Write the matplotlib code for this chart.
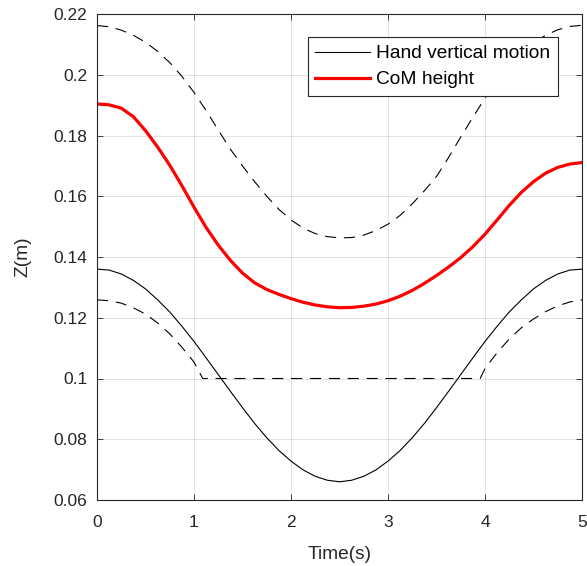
import matplotlib
matplotlib.use('Agg')
import matplotlib.pyplot as plt

# valeurs (pas de 0.125 s)
temps = [0, 0.125, 0.25, 0.375, 0.5, 0.625, 0.75, 0.875, 1.0, 1.125, 1.25, 1.375, 1.5, 1.625,
         1.75, 1.875, 2.0, 2.125, 2.25, 2.375, 2.5, 2.625, 2.75, 2.875, 3.0, 3.125, 3.25,
         3.375, 3.5, 3.625, 3.75, 3.875, 4.0, 4.125, 4.25, 4.375, 4.5, 4.625, 4.75, 4.875, 5.0]
main = [0.136, 0.1357, 0.1344, 0.1323, 0.1295, 0.1259, 0.1219, 0.1172, 0.1122, 0.1068, 0.1013,
        0.0958, 0.0904, 0.0852, 0.0805, 0.0763, 0.0728, 0.0699, 0.0678, 0.0665, 0.066, 0.0665,
        0.0678, 0.0699, 0.0728, 0.0763, 0.0805, 0.0852, 0.0904, 0.0958, 0.1013, 0.1068, 0.1122,
        0.1172, 0.1219, 0.1259, 0.1295, 0.1323, 0.1344, 0.1357, 0.136]
com = [0.1904, 0.1901, 0.1890, 0.1862, 0.1816, 0.1762, 0.1702, 0.1635, 0.1564, 0.1497, 0.1439,
       0.1389, 0.1347, 0.1315, 0.1293, 0.1277, 0.1263, 0.1251, 0.1242, 0.1236, 0.1233, 0.1234,
       0.1238, 0.1245, 0.1256, 0.1271, 0.1290, 0.1313, 0.1339, 0.1367, 0.1398, 0.1434, 0.1475,
       0.1522, 0.1570, 0.1613, 0.1648, 0.1676, 0.1695, 0.1706, 0.1711]
borne_haute = [0.2162, 0.2158, 0.2147, 0.2130, 0.2107, 0.2077, 0.2040, 0.1995, 0.1942, 0.1882,
               0.1818, 0.1755, 0.1700, 0.1648, 0.1600, 0.1557, 0.1522, 0.1495, 0.1477, 0.1467,
               0.1463, 0.1464, 0.1472, 0.1487, 0.1508, 0.1537, 0.1575, 0.1618, 0.1665, 0.1728,
               0.1795, 0.1860, 0.1923, 0.1980, 0.2030, 0.2072, 0.2105, 0.2130, 0.2148, 0.2159,
               0.2163]
# borne basse : saturee a 0.1 entre les deux coins
temps_bas = [0, 0.125, 0.25, 0.375, 0.5, 0.625, 0.75, 0.875, 1.0, 1.09,
             3.95, 4.0, 4.125, 4.25, 4.375, 4.5, 4.625, 4.75, 4.875, 5.0]
borne_basse = [0.1259, 0.1256, 0.1248, 0.1233, 0.1212, 0.1183, 0.1147, 0.1103, 0.1054, 0.1,
               0.1, 0.1033, 0.1085, 0.1130, 0.1167, 0.1196, 0.1220, 0.1239, 0.1252, 0.1259]

gris = '#262626'
plt.rcParams['font.family'] = ['Liberation Sans', 'DejaVu Sans']

fig = plt.figure(figsize=(5.87, 5.66), dpi=100)
ax = fig.add_axes([97/587, 66/566, 485/587, 486/566])

ax.plot(temps, main, color='black', lw=0.8, label='Hand vertical motion')
ax.plot(temps, com, color='red', lw=2.3, label='CoM height')
ax.plot(temps, borne_haute, color='black', lw=0.8, dashes=(10, 7))
ax.plot(temps_bas, borne_basse, color='black', lw=0.8, dashes=(10, 7))

ax.set_xlim(0, 5)
ax.set_ylim(0.06, 0.22)
ax.set_xticks([0, 1, 2, 3, 4, 5])
ax.set_yticks([0.06, 0.08, 0.1, 0.12, 0.14, 0.16, 0.18, 0.2, 0.22])
ax.set_yticklabels(['0.06', '0.08', '0.1', '0.12', '0.14', '0.16', '0.18', '0.2', '0.22'])
ax.grid(True, color=gris, alpha=0.15, lw=0.6)
ax.tick_params(direction='in', top=True, right=True, length=4, width=0.6,
               colors=gris, labelsize=12.5)
ax.tick_params(axis='y', pad=7)
ax.tick_params(axis='x', pad=11)
for s in ax.spines.values():
    s.set_color(gris)
    s.set_linewidth(0.8)

ax.set_xlabel('Time(s)', fontsize=13.8, color=gris, labelpad=11)
ax.set_ylabel('Z(m)', fontsize=13.8, color=gris, labelpad=16)

leg = ax.legend(loc='upper right', bbox_to_anchor=(0.950, 0.952), borderaxespad=0,
                fontsize=13.8, handlelength=2.86, handletextpad=0.3, labelspacing=0.45,
                borderpad=0.4, fancybox=False, framealpha=1)
leg.get_frame().set_edgecolor(gris)
leg.get_frame().set_linewidth(0.8)

fig.savefig('out.png', dpi=100)
